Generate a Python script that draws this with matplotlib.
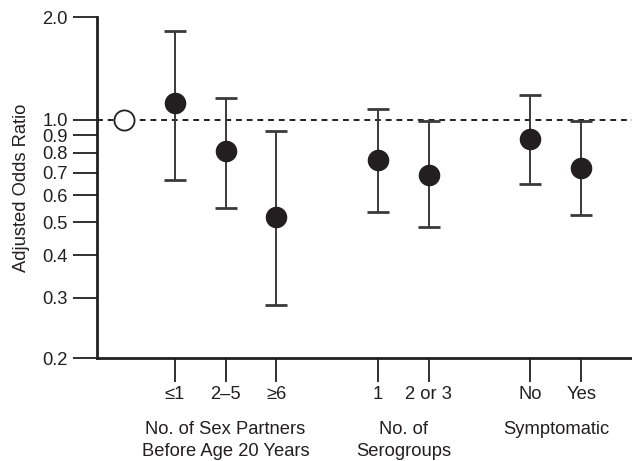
import numpy as np
import matplotlib
matplotlib.use('Agg')
import matplotlib.pyplot as plt
from matplotlib.ticker import FixedLocator, NullLocator, FixedFormatter

plt.rcParams['font.family'] = ['Liberation Sans', 'DejaVu Sans']

# data
categories = ['≤1', '2–5', '≥6', '1', '2 or 3', 'No', 'Yes']
positions = [1, 2, 3, 5, 6, 8, 9]
odds = [1.12, 0.81, 0.52, 0.76, 0.69, 0.88, 0.72]
ci_low = [0.667, 0.552, 0.287, 0.535, 0.485, 0.649, 0.524]
ci_high = [1.82, 1.155, 0.929, 1.077, 0.989, 1.184, 0.989]
ref_pos = 0
ref_value = 1.0

groups = ['No. of Sex Partners\nBefore Age 20 Years', 'No. of\nSerogroups', 'Symptomatic']
group_pos = [2, 5.5, 8.5]

ytick_vals = [0.2, 0.3, 0.4, 0.5, 0.6, 0.7, 0.8, 0.9, 1.0, 2.0]
ytick_labels = ['0.2', '0.3', '0.4', '0.5', '0.6', '0.7', '0.8', '0.9', '1.0', '2.0']

fs = 13.2

fig = plt.figure(figsize=(6.32, 4.61), dpi=100)
ax = fig.add_axes([0.1535, 0.2234, 0.8465, 0.7396])

ax.set_yscale('log')
ax.set_ylim(0.2, 2.0)
ax.set_xlim(-0.53, 10.0)

ink = '#231f20'
odds = np.array(odds)
yerr = [odds - np.array(ci_low), np.array(ci_high) - odds]

ax.axhline(1.0, color=ink, linestyle=(0, (3, 2.5)), linewidth=1.4, zorder=1)
ax.errorbar(positions, odds, yerr=yerr, fmt='none', ecolor='#3a3a3a',
            elinewidth=1.4, capsize=8, capthick=2, zorder=2)
ax.plot(positions, odds, 'o', color=ink, markersize=14.5, zorder=3)
ax.plot([ref_pos], [ref_value], 'o', markerfacecolor='white',
        markeredgecolor=ink, markeredgewidth=1.3, markersize=14.5, zorder=3)

for s in ['top', 'right']:
    ax.spines[s].set_visible(False)
for s in ['left', 'bottom']:
    ax.spines[s].set_linewidth(2)
    ax.spines[s].set_color(ink)

ax.yaxis.set_major_locator(FixedLocator(ytick_vals))
ax.yaxis.set_major_formatter(FixedFormatter(ytick_labels))
ax.yaxis.set_minor_locator(NullLocator())
ax.tick_params(axis='y', length=17, width=1.3, color=ink, labelsize=fs,
               pad=4, labelcolor=ink)

ax.set_xticks(positions)
ax.set_xticklabels(categories)
ax.tick_params(axis='x', length=17, width=1.3, color=ink, labelsize=fs,
               pad=3, labelcolor=ink)

for lbl, gx in zip(groups, group_pos):
    ax.text(gx, -0.185, lbl, transform=ax.get_xaxis_transform(), ha='center',
            va='top', fontsize=fs, color=ink, linespacing=1.4)

ax.set_ylabel('Adjusted Odds Ratio', fontsize=fs, color=ink, labelpad=9)

fig.savefig('out.png', dpi=100)
